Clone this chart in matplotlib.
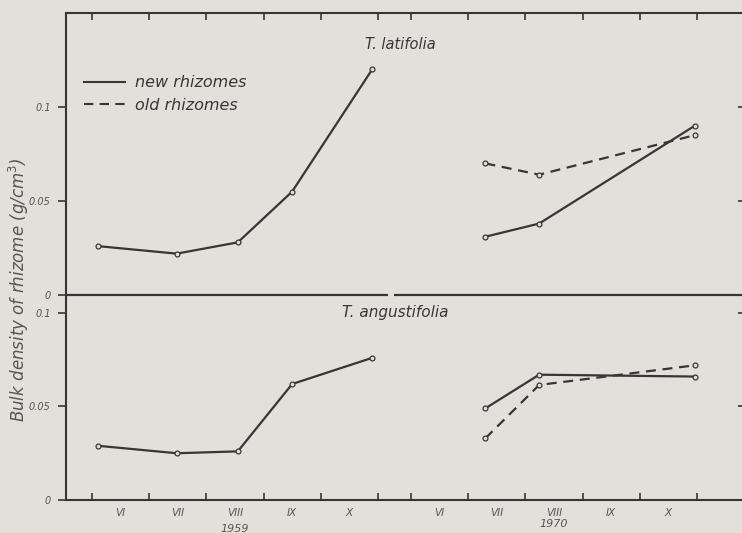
import matplotlib.pyplot as plt
from matplotlib.lines import Line2D

# sampling dates as month numbers (6 = 1 June), 1959 and 1970 seasons
months_1959 = [6.10, 7.48, 8.55, 9.50, 10.90]
months_1970 = [7.30, 8.24, 10.96]

# Typha latifolia
lat_new_1959 = [0.026, 0.022, 0.028, 0.055, 0.120]
lat_new_1970 = [0.031, 0.038, 0.090]
lat_old_1970 = [0.070, 0.064, 0.085]

# Typha angustifolia
ang_new_1959 = [0.029, 0.025, 0.026, 0.062, 0.076]
ang_new_1970 = [0.049, 0.067, 0.066]
ang_old_1970 = [0.033, 0.0615, 0.072]

month_names = ['VI', 'VII', 'VIII', 'IX', 'X']
years = ['1959', '1970']

GAP = 5.58  # shift of the 1970 season along the axis
BG = '#e2e0db'
INK = '#363636'
TXT = '#555555'

x70 = [m + GAP for m in months_1970]
bounds = [6, 7, 8, 9, 10, 11]
ticks = bounds + [b + GAP for b in bounds]
mids = [b + 0.5 for b in bounds[:-1]]
mids = mids + [m + GAP for m in mids]

fig = plt.figure(figsize=(7.42, 5.33), dpi=100, facecolor=BG)
ax1 = fig.add_axes([66 / 742, 1 - 295 / 533, 679 / 742, 282 / 533])
ax2 = fig.add_axes([66 / 742, 1 - 500 / 533, 679 / 742, 205 / 533])

xlim = (5.545, 17.42)
line_kw = dict(color=INK, lw=1.6, marker='o', ms=3.5, mfc=BG, mec=INK, mew=0.9)
dash_kw = dict(line_kw, ls=(0, (4.5, 3)))

for ax in (ax1, ax2):
    ax.patch.set_visible(False)
    ax.set_xlim(*xlim)
    for s in ax.spines.values():
        s.set_color(INK)
        s.set_linewidth(1.5)
    ax.tick_params(axis='y', direction='out', length=6, width=1.2, color=INK,
                   labelsize=7, labelcolor=TXT, pad=5)
    sec = ax.secondary_yaxis('right')
    sec.spines['right'].set_visible(False)
    sec.set_yticks([0.05, 0.1])
    sec.tick_params(direction='in', length=5, width=1.2, color=INK, labelright=False)

# top panel
ax1.plot(months_1959, lat_new_1959, **line_kw)
ax1.plot(x70, lat_new_1970, **line_kw)
ax1.plot(x70, lat_old_1970, **dash_kw)
ax1.set_ylim(0, 0.15)
ax1.set_yticks([0, 0.05, 0.1])
ax1.set_yticklabels(['0', '0.05', '0.1'], fontstyle='italic')
ax1.spines['bottom'].set_visible(False)
ax1.hlines(0, xlim[0], 11.18, color=INK, lw=1.6, clip_on=False)
ax1.hlines(0, 11.29, xlim[1], color=INK, lw=1.6, clip_on=False)
ax1.xaxis.set_ticks_position('top')
ax1.set_xticks(ticks)
ax1.tick_params(axis='x', direction='in', length=5, width=1.2, color=INK, labeltop=False)
ax1.text(11.4, 0.133, 'T. latifolia', fontsize=10.5, fontstyle='italic', color=INK,
         ha='center', va='center')

handles = [Line2D([], [], color=INK, lw=1.5),
           Line2D([], [], color=INK, lw=1.5, ls=(0, (4.5, 3)))]
ax1.legend(handles, ['new rhizomes', 'old rhizomes'], loc='upper left',
           bbox_to_anchor=(0.005, 0.83), frameon=False, handlelength=2.6,
           handletextpad=0.6, labelspacing=0.45,
           prop=dict(size=11.5, style='italic'), labelcolor=INK)

# bottom panel
ax2.plot(months_1959, ang_new_1959, **line_kw)
ax2.plot(x70, ang_new_1970, **line_kw)
ax2.plot(x70, ang_old_1970, **dash_kw)
ax2.set_ylim(0, 0.1096)
ax2.set_yticks([0, 0.05, 0.1])
ax2.set_yticklabels(['0', '0.05', '0.1'], fontstyle='italic')
ax2.spines['top'].set_visible(False)
ax2.set_xticks(ticks)
ax2.set_xticklabels([])
ax2.tick_params(axis='x', which='major', direction='in', length=5, width=1.2, color=INK)
ax2.set_xticks(mids, minor=True)
ax2.set_xticklabels(month_names * 2, minor=True, fontstyle='italic')
ax2.tick_params(axis='x', which='minor', length=0, labelsize=7.5, labelcolor=TXT, pad=6)
ax2.text(11.3, 0.1, 'T. angustifolia', fontsize=11, fontstyle='italic', color=INK,
         ha='center', va='center')

tr = ax2.get_xaxis_transform()
ax2.text(8.5, -0.14, years[0], transform=tr, fontsize=8, fontstyle='italic',
         color=TXT, ha='center', va='center')
ax2.text(8.5 + GAP, -0.118, years[1], transform=tr, fontsize=8, fontstyle='italic',
         color=TXT, ha='center', va='center')

fig.text(0.025, 1 - 290 / 533, 'Bulk density of rhizome (g/cm$^3$)', rotation=90,
         fontsize=12, fontstyle='italic', color=TXT, ha='center', va='center')

fig.savefig('out.png', dpi=100, facecolor=BG)
